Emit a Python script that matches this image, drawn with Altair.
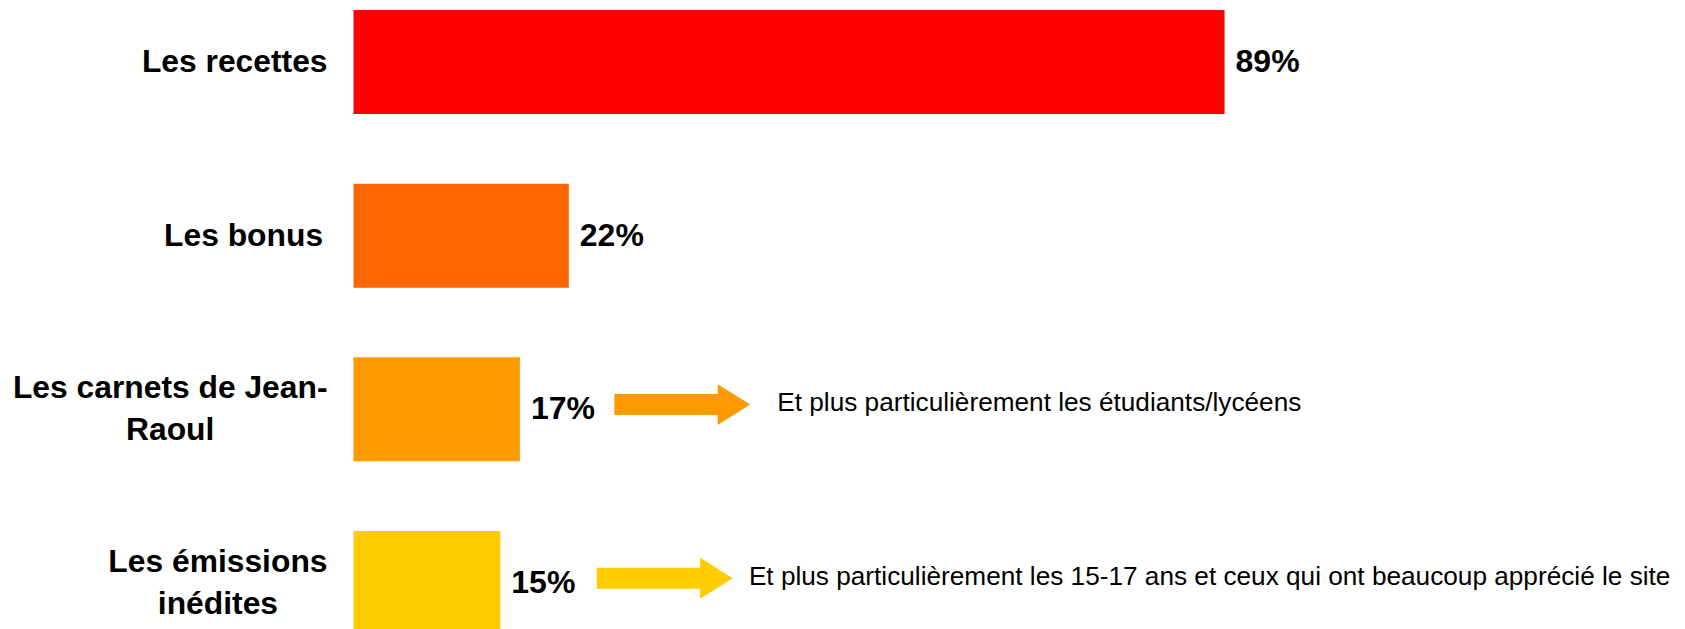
import altair as alt
import pandas as pd

# ---- data ----
categories = ["Les recettes", "Les bonus", "Les carnets de Jean-Raoul", "Les émissions inédites"]
label_lines = [["Les recettes"], ["Les bonus "], ["Les carnets de Jean-", "Raoul"], ["Les émissions", "inédites"]]
values = [89, 22, 17, 15]
value_labels = ["89%", "22%", "17%", "15%"]
bar_colors = ["#FF0000", "#FF6600", "#FF9900", "#FFCC00"]

note_categories = ["Les carnets de Jean-Raoul", "Les émissions inédites"]
note_texts = [
    "Et plus particulièrement les étudiants/lycéens",
    "Et plus particulièrement les 15-17 ans et ceux qui ont beaucoup apprécié le site",
]
note_x = [43.3, 40.4]
arrow_x = [33.6, 31.8]
arrow_colors = ["#FF9900", "#FFCC00"]

# ---- styling / layout ----
FONT = "Liberation Sans"
LABEL_SIZE = 31.8
VALUE_SIZE = 32
NOTE_SIZE = 26.2
LINE_H = 42
LABEL_RIGHT = -26  # px left of the plot origin
PX_PER_UNIT = 9.787
PLOT_W = 1323
PLOT_H = 621
# Arial / Liberation Sans Bold advance widths (per 1000 em)
BOLD_W = {"L": 611, "e": 556, "s": 556, " ": 278, "r": 389, "c": 556, "t": 333, "b": 611,
          "o": 611, "n": 611, "u": 611, "a": 556, "d": 611, "J": 556, "-": 333, "R": 722,
          "é": 556, "m": 889, "i": 278, "l": 278}


def text_width(s, size):
    return sum(BOLD_W.get(ch, 556) for ch in s) * size / 1000.0


label_x = [LABEL_RIGHT - max(text_width(l, LABEL_SIZE) for l in lines) / 2 for lines in label_lines]

bars_df = pd.DataFrame({
    "cat": categories,
    "value": values,
    "vlabel": value_labels,
    "label": ["\n".join(l) for l in label_lines],
    "nlines": [len(l) for l in label_lines],
    "lx": label_x,
})
notes_df = pd.DataFrame({
    "cat": note_categories,
    "note": note_texts,
    "nx": note_x,
    "ax": arrow_x,
    "col": arrow_colors,
})

x_scale = alt.Scale(domain=[0, PLOT_W / PX_PER_UNIT], nice=False, zero=False)
y_enc = alt.Y("cat:N", sort=categories,
              scale=alt.Scale(domain=categories, range=[2, 627], paddingInner=0.401, paddingOuter=0),
              axis=None)

bars = alt.Chart(bars_df).mark_bar().encode(
    x=alt.X("value:Q", scale=x_scale, axis=None),
    y=y_enc,
    color=alt.Color("cat:N", scale=alt.Scale(domain=categories, range=bar_colors), legend=None),
)

vals = alt.Chart(bars_df).mark_text(
    align="left", baseline="middle", dx=11, font=FONT, fontSize=VALUE_SIZE, fontWeight="bold", color="#000000"
).encode(
    x=alt.X("value:Q", scale=x_scale, axis=None),
    y=y_enc,
    text="vlabel:N",
)


def label_layer(n):
    return alt.Chart(bars_df).transform_filter(alt.datum.nlines == n).mark_text(
        align="center", baseline="middle", lineBreak="\n", lineHeight=LINE_H,
        dy=-(n - 1) * LINE_H / 2,
        font=FONT, fontSize=LABEL_SIZE, fontWeight="bold", color="#000000"
    ).encode(
        x=alt.X("lx:Q", scale=None),
        y=y_enc,
        text="label:N",
    )


labels1 = label_layer(1)
labels2 = label_layer(2)

arrow_path = "M-1,-0.224 L0.52,-0.224 L0.52,-0.37 L1,-0.07 L0.52,0.23 L0.52,0.084 L-1,0.084 Z"
arrows = alt.Chart(notes_df).mark_point(
    shape=arrow_path, filled=True, size=18496, opacity=1, strokeWidth=0
).encode(
    x=alt.X("ax:Q", scale=x_scale, axis=None),
    y=y_enc,
    color=alt.Color("col:N", scale=None),
)

notes = alt.Chart(notes_df).mark_text(
    align="left", baseline="middle", dy=-6, font=FONT, fontSize=NOTE_SIZE, color="#000000"
).encode(
    x=alt.X("nx:Q", scale=x_scale, axis=None),
    y=y_enc,
    text="note:N",
)

chart = alt.layer(bars, vals, labels1, labels2, arrows, notes).properties(
    width=PLOT_W,
    height=PLOT_H,
    autosize=alt.AutoSizeParams(type="none"),
    padding={"left": 345.5, "top": 0, "right": 0, "bottom": 0},
    background="#FFFFFF",
).configure_view(stroke=None)

chart.save("out.html", embed_options={"renderer": "svg", "actions": False})
